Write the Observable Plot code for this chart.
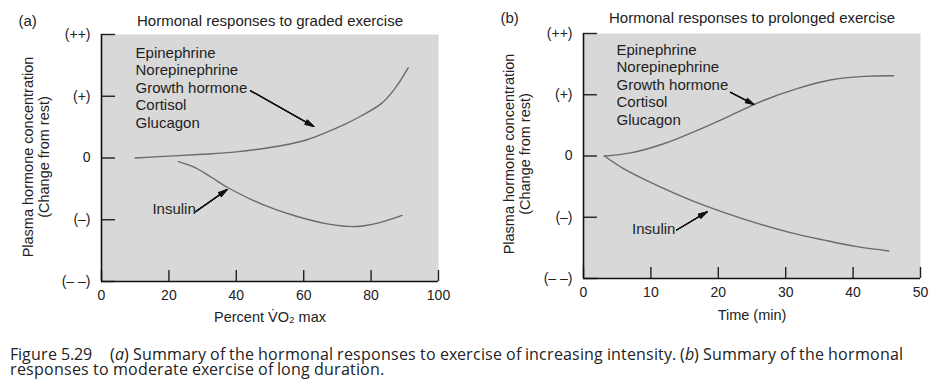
<!DOCTYPE html>
<html><head><meta charset="utf-8">
<script src="https://cdn.jsdelivr.net/npm/d3@7"></script>
<script src="https://cdn.jsdelivr.net/npm/@observablehq/plot@0.6"></script>
<style>
@font-face{font-family:"CapSans";src:local("Open Sans"),local("Open Sans Regular"),local("OpenSans-Regular");font-style:normal;font-weight:400;ascent-override:78%;descent-override:18%;line-gap-override:0%}
@font-face{font-family:"CapSans";src:local("Open Sans Italic"),local("OpenSans-Italic");font-style:italic;font-weight:400;ascent-override:78%;descent-override:18%;line-gap-override:0%}
body{margin:0;background:#fff;width:933px;height:388px;overflow:hidden;position:relative;}
#a{position:absolute;left:0;top:0}
#b{position:absolute;left:466px;top:0}
#cap{position:absolute;left:10px;top:347.5px;font-family:"CapSans","Open Sans",sans-serif;font-size:15.8px;line-height:15.3px;color:#222;white-space:nowrap}
#cap .fig{margin-right:18px}
</style></head><body>
<div id="a"></div><div id="b"></div>
<div id="cap"><span class="fig">Figure 5.29</span>(<i>a</i>) Summary of the hormonal responses to exercise of increasing intensity. (<i>b</i>) Summary of the hormonal<br>responses to moderate exercise of long duration.</div>
<script>
// ---- data ----
const yTicks = [-2, -1, 0, 1, 2];
const yTickLabels = ["(\u2013 \u2013)", "(\u2013)", "0", "(+)", "(++)"];
const gradedTicks = [0, 20, 40, 60, 80, 100];
const prolongedTicks = [0, 10, 20, 30, 40, 50];
const hormoneNames = ["Epinephrine", "Norepinephrine", "Growth hormone", "Cortisol", "Glucagon"];

const gradedHormoneX = [10, 20, 30, 40, 50, 60, 66, 72, 77, 83, 87, 91];
const gradedHormoneY = [0.0, 0.03, 0.06, 0.1, 0.17, 0.28, 0.4, 0.54, 0.68, 0.88, 1.12, 1.46];
const gradedInsulinX = [22.8, 27.9, 32.8, 37.8, 47.7, 57.6, 67.4, 75.4, 82.3, 89.2];
const gradedInsulinY = [-0.06, -0.16, -0.32, -0.49, -0.75, -0.94, -1.07, -1.11, -1.05, -0.93];

const prolongedHormoneX = [3.1, 7, 11.9, 16.9, 21.8, 26.8, 31.7, 36.6, 41.6, 46];
const prolongedHormoneY = [0, 0.05, 0.2, 0.42, 0.66, 0.91, 1.1, 1.24, 1.3, 1.31];
const prolongedInsulinX = [3.1, 6, 10.9, 15.9, 20.8, 25.8, 30.7, 35.6, 40.6, 45.3];
const prolongedInsulinY = [0, -0.21, -0.48, -0.72, -0.92, -1.10, -1.25, -1.37, -1.48, -1.55];

// annotation anchors (data units)
const gradedArrowX1 = [44.2, 27.9], gradedArrowY1 = [1.09, -0.87];
const gradedArrowX2 = [63, 37.3],   gradedArrowY2 = [0.51, -0.51];
const prolongedArrowX1 = [21.8, 13.8], prolongedArrowY1 = [1.04, -1.21];
const prolongedArrowX2 = [25.3, 18.35], prolongedArrowY2 = [0.84, -0.91];
const gradedLegendAt = [10.1, 1.15], gradedInsulinAt = [15.1, -0.83];
const prolongedLegendAt = [4.9, 1.17], prolongedInsulinAt = [7.2, -1.19];

const zip = (xs, ys) => xs.map((x, i) => ({x, y: ys[i]}));
const arrows = (x1, y1, x2, y2) => x1.map((_, i) => ({x1: x1[i], y1: y1[i], x2: x2[i], y2: y2[i]}));

function panel(o) {
  const font = "'Liberation Sans', Arial, sans-serif";
  const arr = arrows(...o.arrows);
  return Plot.plot({
    width: o.width, height: 335,
    marginLeft: o.ml, marginRight: o.mr, marginTop: o.mt, marginBottom: o.mb,
    style: {fontFamily: font, fontSize: "14px", color: "#222", background: "transparent", overflow: "visible"},
    x: {domain: o.xDomain},
    y: {domain: [-2, 2]},
    marks: [
      Plot.frame({fill: "#d8d8d8", stroke: "none"}),
      Plot.axisY({ticks: yTicks, tickFormat: d => yTickLabels[yTicks.indexOf(d)], tickSize: -14, tickPadding: 25, strokeWidth: 1.4, label: null, fontSize: 14}),
      Plot.axisX({ticks: o.ticks, tickSize: -11, tickPadding: 20, strokeWidth: 1.4, label: null, fontSize: 14}),
      Plot.ruleX([o.xDomain[0]], {stroke: "#111", strokeWidth: 1.6}),
      Plot.ruleY([-2], {stroke: "#111", strokeWidth: 1.6}),
      Plot.line(o.hormone, {x: "x", y: "y", curve: "catmull-rom", stroke: "#6a6a6a", strokeWidth: 1.4}),
      Plot.line(o.insulin, {x: "x", y: "y", curve: "catmull-rom", stroke: "#6a6a6a", strokeWidth: 1.4}),
      ...[8, 16, 24, 32].map(a => Plot.arrow(arr, {x1: "x1", y1: "y1", x2: "x2", y2: "y2", stroke: "#111", strokeWidth: 1.1, headAngle: a, headLength: 12.5})),
      Plot.text([hormoneNames.join("\n")], {x: o.legendAt[0], y: o.legendAt[1], textAnchor: "start", lineHeight: 1.17, fontSize: 15, fill: "#1e1e1e"}),
      Plot.text(["Insulin"], {x: o.insulinAt[0], y: o.insulinAt[1], textAnchor: "start", fontSize: 15, fill: "#1e1e1e"}),
      Plot.text([o.title], {frameAnchor: "top", dy: o.titleDy, fontSize: 15}),
      Plot.text([o.letter], {frameAnchor: "top-left", textAnchor: "start", dx: -83, dy: o.titleDy, fontSize: 15}),
      Plot.text(["Plasma hormone concentration\n(Change from rest)"], {frameAnchor: "left", textAnchor: "middle", rotate: -90, dx: o.ylabDx, dy: o.ylabDy, lineHeight: 1.12, fontSize: 14.5}),
      Plot.text([o.xLabel], {frameAnchor: "bottom", dy: o.xlabDy, fontSize: 14.5})
    ]
  });
}

document.getElementById("a").append(panel({
  width: 466, ml: 101, mr: 28, mt: 34, mb: 54,
  xDomain: [0, 100], ticks: gradedTicks,
  hormone: zip(gradedHormoneX, gradedHormoneY),
  insulin: zip(gradedInsulinX, gradedInsulinY),
  arrows: [gradedArrowX1, gradedArrowY1, gradedArrowX2, gradedArrowY2],
  legendAt: gradedLegendAt, insulinAt: gradedInsulinAt,
  title: "Hormonal responses to graded exercise", letter: "(a)", titleDy: -19,
  ylabDx: -66, ylabDy: -1,
  xLabel: "Percent V\u0307O\u2082 max", xlabDy: 40
}));

document.getElementById("b").append(panel({
  width: 467, ml: 117, mr: 13, mt: 33, mb: 57,
  xDomain: [0, 50], ticks: prolongedTicks,
  hormone: zip(prolongedHormoneX, prolongedHormoneY),
  insulin: zip(prolongedInsulinX, prolongedInsulinY),
  arrows: [prolongedArrowX1, prolongedArrowY1, prolongedArrowX2, prolongedArrowY2],
  legendAt: prolongedLegendAt, insulinAt: prolongedInsulinAt,
  title: "Hormonal responses to prolonged exercise", letter: "(b)", titleDy: -21,
  ylabDx: -67, ylabDy: -2,
  xLabel: "Time (min)", xlabDy: 41
}));
</script>
</body></html>
